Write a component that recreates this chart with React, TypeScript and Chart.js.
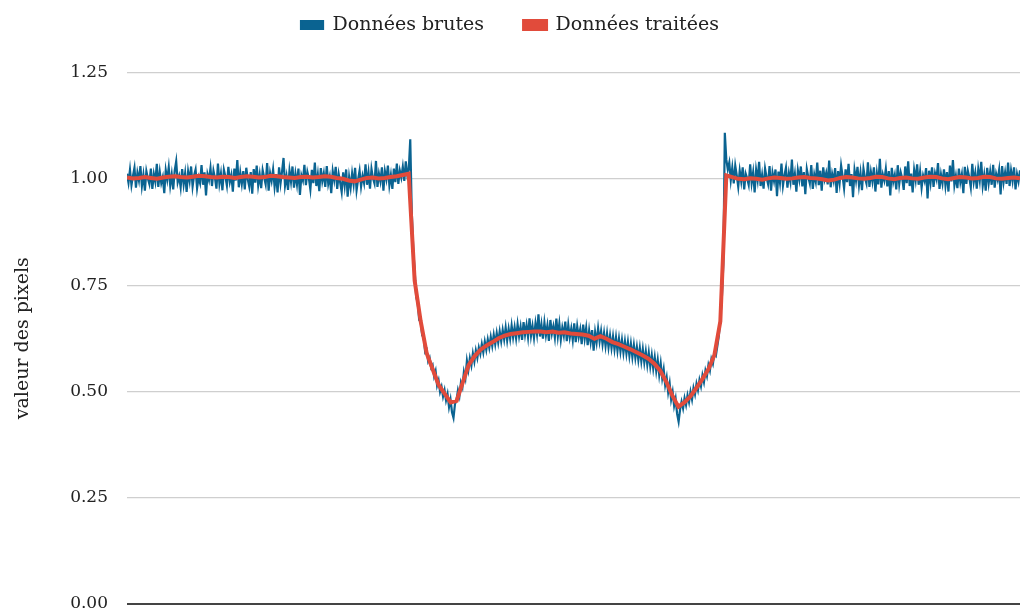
import React, { useEffect, useRef } from "react";
import { Chart, registerables } from "chart.js";

Chart.register(...registerables);

const seriesLabels = ["Données brutes", "Données traitées"];
const yTickValues = [0, 0.25, 0.5, 0.75, 1.0, 1.25];
const yTitle = "valeur des pixels";

// raw (noisy) profile, 600 samples across the width
const rawValues = [
  1.012, 0.991, 1.021, 0.985, 1.007, 1.026, 0.979, 1.014, 0.996, 1.030,
  0.983, 1.009, 0.972, 1.018, 1.001, 0.988, 1.024, 0.976, 1.011, 0.993,
  1.035, 0.981, 1.016, 0.990, 1.004, 0.966, 1.020, 0.998, 1.027, 0.984,
  1.010, 0.975, 1.019, 1.041, 0.992, 1.006, 0.980, 1.023, 0.987, 1.013,
  0.969, 1.017, 0.995, 1.029, 0.982, 1.008, 1.022, 0.978, 1.003, 0.990,
  1.032, 0.986, 1.015, 0.961, 1.011, 0.997, 1.025, 0.983, 1.019, 1.002,
  0.977, 1.036, 0.989, 1.012, 0.973, 1.021, 1.005, 0.984, 1.028, 0.993,
  1.009, 0.970, 1.024, 0.996, 1.044, 0.980, 1.014, 0.988, 1.018, 0.975,
  1.026, 0.999, 0.982, 1.016, 0.965, 1.023, 0.991, 1.031, 0.985, 1.010,
  0.978, 1.020, 1.003, 0.987, 1.037, 0.972, 1.013, 0.995, 1.022, 0.981,
  1.011, 0.968, 1.027, 0.990, 1.017, 1.049, 0.984, 1.006, 0.974, 1.019,
  0.993, 1.029, 0.979, 1.012, 0.987, 1.024, 0.962, 1.008, 0.996, 1.033,
  0.985, 1.016, 1.001, 0.975, 1.021, 0.990, 1.038, 0.983, 1.010, 0.971,
  1.025, 0.994, 1.013, 0.981, 1.030, 0.988, 1.005, 0.966, 1.018, 0.997,
  1.028, 0.976, 1.011, 0.991, 0.969, 1.015, 0.984, 1.022, 0.958, 1.004,
  0.979, 1.013, 0.987, 1.026, 0.973, 0.998, 1.019, 0.982, 1.007, 0.990,
  1.034, 0.986, 1.015, 0.977, 1.023, 1.001, 0.989, 1.042, 0.981, 1.012,
  0.994, 1.027, 0.972, 1.018, 0.999, 1.031, 0.985, 1.009, 0.976, 1.024,
  0.992, 1.036, 0.988, 1.019, 1.003, 1.028, 0.995, 1.041, 1.010, 1.022,
  1.093,
  0.925, 0.836, 0.781, 0.722, 0.708, 0.668, 0.664, 0.632, 0.627, 0.593,
  0.598, 0.571, 0.579, 0.556, 0.562, 0.536, 0.548, 0.514, 0.526, 0.499,
  0.511, 0.488, 0.503, 0.479, 0.494, 0.463, 0.481, 0.451, 0.438, 0.470,
  0.479, 0.503, 0.489, 0.521, 0.510, 0.546, 0.531, 0.572, 0.551, 0.578,
  0.561, 0.589, 0.570, 0.596, 0.579, 0.603, 0.588, 0.611, 0.592, 0.617,
  0.598, 0.622, 0.603, 0.628, 0.607, 0.633, 0.611, 0.637, 0.615, 0.641,
  0.618, 0.644, 0.622, 0.650, 0.620, 0.647, 0.624, 0.655, 0.627, 0.651,
  0.625, 0.658, 0.630, 0.652, 0.621, 0.663, 0.633, 0.656, 0.628, 0.672,
  0.631, 0.654, 0.626, 0.660, 0.635, 0.681, 0.629, 0.657, 0.624, 0.662,
  0.632, 0.655, 0.619, 0.668, 0.636, 0.653, 0.627, 0.671, 0.630, 0.659,
  0.622, 0.650, 0.631, 0.664, 0.618, 0.656, 0.627, 0.648, 0.621, 0.660,
  0.616, 0.653, 0.628, 0.646, 0.611, 0.657, 0.624, 0.649, 0.609, 0.643,
  0.616, 0.644, 0.596, 0.639, 0.615, 0.648, 0.618, 0.642, 0.611, 0.637,
  0.607, 0.636, 0.604, 0.631, 0.602, 0.629, 0.599, 0.627, 0.596, 0.624,
  0.594, 0.621, 0.591, 0.618, 0.589, 0.616, 0.584, 0.612, 0.581, 0.609,
  0.579, 0.604, 0.574, 0.602, 0.571, 0.599, 0.568, 0.594, 0.563, 0.591,
  0.559, 0.585, 0.554, 0.580, 0.548, 0.574, 0.539, 0.566, 0.531, 0.552,
  0.515, 0.533, 0.498, 0.519, 0.481, 0.499, 0.466, 0.483, 0.447, 0.429,
  0.458, 0.476, 0.460, 0.484, 0.468, 0.491, 0.475, 0.499, 0.481, 0.508,
  0.493, 0.518, 0.503, 0.527, 0.512, 0.538, 0.522, 0.549, 0.536, 0.562,
  0.549, 0.576, 0.565, 0.589, 0.584, 0.607, 0.631, 0.672, 0.718, 0.800,
  1.108,
  1.045, 1.022, 1.038, 0.997, 1.026, 0.989, 1.031, 1.008,
  0.981, 1.019, 0.994, 1.027, 0.975, 1.012, 1.001, 0.986, 1.034, 0.990,
  1.015, 0.968, 1.021, 0.997, 1.040, 0.983, 1.009, 0.977, 1.024, 1.003,
  0.988, 1.030, 0.972, 1.014, 0.995, 1.022, 0.959, 1.017, 0.991, 1.036,
  0.984, 1.008, 1.026, 0.979, 1.013, 0.993, 1.045, 0.986, 1.011, 0.970,
  1.020, 0.998, 1.029, 0.982, 1.016, 0.964, 1.023, 1.004, 0.989, 1.032,
  0.976, 1.010, 0.993, 1.038, 0.985, 1.019, 0.972, 1.027, 0.999, 1.014,
  0.987, 1.043, 0.980, 1.012, 0.995, 1.025, 0.967, 1.018, 0.990, 1.031,
  1.006, 0.978, 1.022, 0.992, 1.035, 0.983, 1.011, 0.957, 1.020, 0.996,
  1.028, 0.985, 1.014, 0.973, 1.024, 1.002, 0.989, 1.039, 0.981, 1.016,
  0.994, 1.027, 0.970, 1.013, 0.987, 1.047, 0.979, 1.010, 0.996, 1.023,
  0.982, 1.018, 0.961, 1.026, 0.993, 1.009, 0.975, 1.032, 0.988, 1.015,
  1.001, 0.974, 1.029, 0.990, 1.041, 0.983, 1.012, 0.968, 1.021, 0.997,
  1.034, 0.986, 1.017, 0.979, 1.008, 0.995, 1.025, 0.954, 1.019, 0.991,
  1.027, 0.981, 1.013, 0.999, 1.037, 0.976, 1.010, 0.989, 1.022, 0.984,
  1.016, 0.970, 1.031, 0.994, 1.044, 0.985, 1.007, 0.978, 1.024, 0.992,
  1.011, 0.966, 1.028, 0.988, 1.019, 1.003, 0.980, 1.035, 0.993, 1.014,
  0.977, 1.022, 0.996, 1.040, 0.984, 1.009, 0.972, 1.026, 0.990, 1.017,
  0.986, 1.033, 0.979, 1.012, 0.998, 1.021, 0.963, 1.030, 0.992, 1.015,
  0.988, 1.038, 0.983, 1.019, 0.995, 1.027, 0.975, 1.011, 0.994, 1.020,
];

// processed (smoothed) profile, 150 samples across the same width
const smoothValues = [
  1.003, 1.001, 1.002, 1.004, 1.002, 1.000, 1.003, 1.005, 1.006, 1.004,
  1.003, 1.005, 1.007, 1.006, 1.004, 1.003, 1.005, 1.004, 1.002, 1.004,
  1.006, 1.005, 1.003, 1.004, 1.007, 1.006, 1.004, 1.003, 1.002, 1.004,
  1.005, 1.003, 1.004, 1.006, 1.005, 1.002, 1.000, 0.996, 0.994, 0.998,
  1.002, 1.003, 1.001, 1.002, 1.004, 1.006, 1.009,
  1.012, 0.760, 0.665, 0.590, 0.552, 0.515, 0.495, 0.474, 0.478, 0.520,
  0.562, 0.583, 0.598, 0.608, 0.616, 0.625, 0.631, 0.635, 0.637, 0.639,
  0.640, 0.641, 0.641, 0.639, 0.641, 0.638, 0.639, 0.636, 0.635, 0.634,
  0.631, 0.624, 0.630, 0.624, 0.616, 0.611, 0.605, 0.599, 0.592, 0.585,
  0.577, 0.565, 0.548, 0.522, 0.490, 0.464, 0.474, 0.488, 0.508, 0.529,
  0.552, 0.585, 0.665, 1.008, 1.004,
  1.000, 0.999, 1.001, 1.000, 0.998, 1.001, 1.003, 1.002,
  1.000, 1.001, 1.003, 1.004, 1.002, 1.001, 0.999, 0.996, 0.998, 1.002,
  1.004, 1.003, 1.001, 1.000, 1.002, 1.005, 1.004, 1.001, 0.999, 1.002,
  1.003, 1.001, 1.000, 1.003, 1.005, 1.004, 1.001, 0.999, 1.002, 1.004,
  1.003, 1.001, 1.002, 1.005, 1.004, 1.001, 1.000, 1.002, 1.003, 1.001,
];

const BLUE = "#0a6391";
const RED = "#e14b3b";
const FONT = "'DejaVu Serif', serif";

export default function App() {
  const canvasRef = useRef<HTMLCanvasElement | null>(null);

  useEffect(() => {
    const canvas = canvasRef.current;
    if (!canvas) return;
    const lastRaw = rawValues.length - 1;
    const rawPoints = rawValues.map((v, i) => ({ x: i, y: v }));
    const smoothPoints = smoothValues.map((v, k) => ({
      x: (k * lastRaw) / (smoothValues.length - 1),
      y: v,
    }));

    const legendSpacing = {
      id: "legendSpacing",
      beforeInit(chart: any) {
        if (!chart.legend) return;
        const origFit = chart.legend.fit;
        chart.legend.fit = function () {
          origFit.call(this);
          this.height += 28;
        };
      },
    };

    const chart = new Chart(canvas, {
      type: "line",
      data: {
        datasets: [
          {
            label: seriesLabels[0],
            data: rawPoints,
            borderColor: BLUE,
            backgroundColor: BLUE,
            borderWidth: 2.2,
            pointRadius: 0,
            tension: 0,
            order: 1,
          },
          {
            label: seriesLabels[1],
            data: smoothPoints,
            borderColor: RED,
            backgroundColor: RED,
            borderWidth: 4,
            pointRadius: 0,
            tension: 0,
            order: 0,
          },
        ],
      },
      options: {
        animation: false,
        responsive: false,
        layout: { padding: { top: -24.5, right: 0, bottom: 0, left: 0 } },
        plugins: {
          legend: {
            position: "top",
            labels: {
              boxWidth: 22,
              boxHeight: 8,
              padding: 40,
              color: "#222",
              font: { family: FONT, size: 19 },
              sort: (a: any, b: any) => a.datasetIndex - b.datasetIndex,
            },
          },
          tooltip: { enabled: false },
        },
        scales: {
          x: {
            type: "linear",
            min: 0,
            max: lastRaw,
            display: false,
          },
          y: {
            min: 0,
            max: 1.25,
            afterFit: (scale: any) => {
              scale.width = 127;
              scale.paddingBottom = 10;
              scale.paddingTop = 10;
            },
            afterBuildTicks: (scale: any) => {
              scale.ticks = yTickValues.map((v) => ({ value: v }));
            },
            border: { display: false },
            grid: {
              drawTicks: false,
              color: (ctx: any) => (ctx.tick && ctx.tick.value === 0 ? "#444" : "#cfcfcf"),
              lineWidth: (ctx: any) => (ctx.tick && ctx.tick.value === 0 ? 2 : 1.2),
            },
            ticks: {
              padding: 19,
              color: "#222",
              font: { family: FONT, size: 17 },
              callback: (v: any) => Number(v).toFixed(2),
            },
            title: {
              display: true,
              text: yTitle,
              color: "#222",
              font: { family: FONT, size: 19 },
              padding: { top: 12, bottom: 4 },
            },
          },
        },
      },
      plugins: [legendSpacing],
    });

    return () => chart.destroy();
  }, []);

  return (
    <div style={{ position: "fixed", left: 0, top: 0, width: 1020, height: 614, background: "#fff" }}>
      <canvas ref={canvasRef} width={1020} height={614} style={{ display: "block" }} />
    </div>
  );
}
